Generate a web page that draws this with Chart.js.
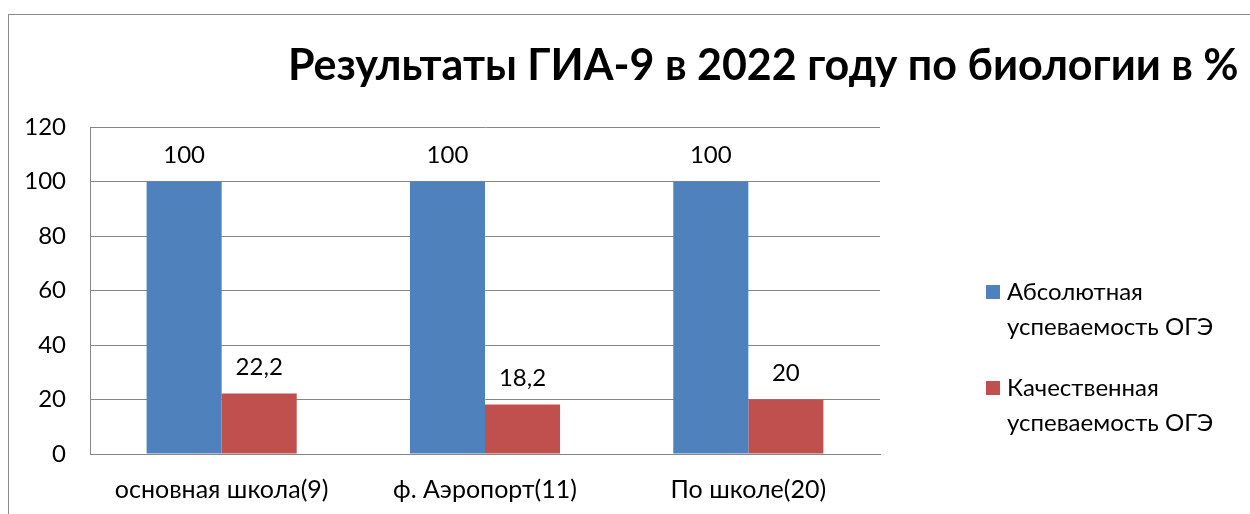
<!DOCTYPE html>
<html>
<head>
<meta charset="utf-8">
<script src="https://cdn.jsdelivr.net/npm/chart.js@4.4.0/dist/chart.umd.min.js"></script>
<style>
  html, body { margin: 0; padding: 0; background: #fff; }
  #wrap { width: 1250px; height: 514px; position: relative; }
</style>
</head>
<body>
<div id="wrap"><canvas id="chart_gia9_bio"></canvas></div>
<script>
var chartTitle = 'Результаты ГИА-9 в 2022 году по биологии в %';
var categories = ['основная школа(9)', 'ф. Аэропорт(11)', 'По школе(20)'];
var absoluteLabel = ['Абсолютная', 'успеваемость ОГЭ'];
var absoluteValues = [100, 100, 100];
var qualityLabel = ['Качественная', 'успеваемость ОГЭ'];
var qualityValues = [22.2, 18.2, 20];
var yTicks = [0, 20, 40, 60, 80, 100, 120];

var FONT = 'Lato, "Open Sans", sans-serif';

function fmt(v) {
    return String(v).replace('.', ',');
}

var chart_gia9_bio = new Chart(document.getElementById('chart_gia9_bio'), {
    type: 'bar',
    data: {
        labels: categories,
        datasets: [
            {
                label: absoluteLabel,
                data: absoluteValues,
                backgroundColor: '#4F81BD',
                categoryPercentage: 0.57,
                barPercentage: 1.0
            },
            {
                label: qualityLabel,
                data: qualityValues,
                backgroundColor: '#C0504D',
                categoryPercentage: 0.57,
                barPercentage: 1.0
            }
        ]
    },
    options: {
        animation: false,
        responsive: true,
        maintainAspectRatio: false,
        layout: {
            padding: { top: 127, right: 370, left: 0, bottom: 0 }
        },
        plugins: {
            legend: { display: false },
            title: { display: false },
            tooltip: { enabled: false }
        },
        scales: {
            x: {
                grid: { display: false, drawTicks: false },
                border: { display: true, color: '#868686', width: 1 },
                ticks: {
                    color: '#000',
                    padding: 21,
                    font: { family: FONT, size: 25 }
                },
                afterFit: function(scale) { scale.height = 60; }
            },
            y: {
                min: 0,
                max: 120,
                afterBuildTicks: function(scale) {
                    scale.ticks = yTicks.map(function(v) { return { value: v }; });
                },
                grid: { color: '#868686', drawTicks: false },
                border: { display: true, color: '#868686', width: 1 },
                ticks: {
                    color: '#000',
                    padding: 24,
                    font: { family: FONT, size: 24 }
                },
                afterFit: function(scale) { scale.width = 90; }
            }
        }
    },
    plugins: [{
        id: 'customPlugin',
        beforeDraw: (chart, args, options) => {
            const ctx = chart.ctx;
            ctx.save();
            ctx.fillStyle = 'white';
            ctx.fillRect(0, 0, chart.width, chart.height);
            ctx.strokeStyle = '#8c8c8c';
            ctx.lineWidth = 1;
            ctx.strokeRect(8.5, 14.5, 1400, 700);
            ctx.restore();
        },
        afterDraw: (chart, args, options) => {
            const ctx = chart.ctx;
            ctx.save();
            // title
            ctx.fillStyle = '#000';
            ctx.font = 'bold 43px ' + FONT;
            ctx.textAlign = 'left';
            ctx.textBaseline = 'middle';
            ctx.fillText(chartTitle, 288, 66, 958);
            // value labels
            ctx.font = '24px ' + FONT;
            ctx.textAlign = 'center';
            chart.data.datasets.forEach(function(ds, i) {
                chart.getDatasetMeta(i).data.forEach(function(bar, j) {
                    ctx.fillText(fmt(ds.data[j]), bar.x, bar.y - 26);
                });
            });
            // legend
            ctx.textAlign = 'left';
            ctx.font = '24px ' + FONT;
            var rows = [292, 388];
            chart.data.datasets.forEach(function(ds, i) {
                var y = rows[i];
                ctx.fillStyle = ds.backgroundColor;
                ctx.fillRect(986, y - 7, 14, 14);
                ctx.fillStyle = '#000';
                ds.label.forEach(function(line, k) {
                    ctx.fillText(line, 1007, y + k * 35);
                });
            });
            ctx.restore();
        }
    }]
});
</script>
</body>
</html>
